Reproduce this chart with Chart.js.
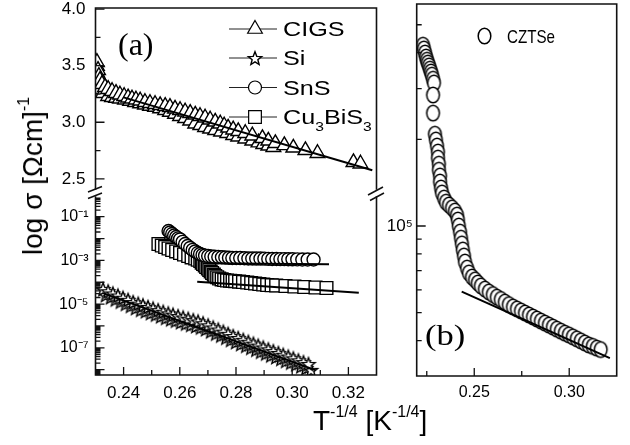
<!DOCTYPE html>
<html>
<head>
<meta charset="utf-8">
<script src="https://cdn.jsdelivr.net/npm/chart.js@4.4.1/dist/chart.umd.min.js"></script>
<style>
html,body{margin:0;padding:0;background:#fff;}
body{width:630px;height:445px;position:relative;overflow:hidden;font-family:Arial,"Liberation Sans",sans-serif;color:#000;}
canvas{position:absolute;}
#ytitle{position:absolute;left:35px;top:176px;transform:translate(-50%,-50%) rotate(-90deg);font-size:28px;line-height:28px;white-space:nowrap;}
#xtitle{position:absolute;left:313px;top:407px;font-size:28px;line-height:28px;white-space:nowrap;}
.sup{font-size:16px;position:relative;top:-13px;}
</style>
</head>
<body>
<canvas id="ca" width="400" height="195" style="left:0;top:0"></canvas>
<canvas id="cb" width="400" height="265" style="left:0;top:180px"></canvas>
<canvas id="cc" width="260" height="445" style="left:370px;top:0"></canvas>
<div id="ytitle">log σ [Ωcm]<span class="sup">-1</span></div>
<div id="xtitle">T<span class="sup">-1/4</span> [K<span class="sup">-1/4</span>]</div>
<script>
// ---------- axis ticks / labels ----------
const tTicksA = [0.24, 0.26, 0.28, 0.30, 0.32];
const tMinorA = [0.25, 0.27, 0.29, 0.31];
const upperTicks = [2.5, 3.0, 3.5, 4.0];
const upperMinor = [2.75, 3.25, 3.75];
const lowerLabelExps = [-7, -5, -3, -1];
const lowerDecades = [-9, -8, -7, -6, -5, -4, -3, -2, -1];
const tTicksB = [0.25, 0.30];
const tMinorB = [0.225, 0.275];
const rightLabelExps = [5];
const rightDecades = [4, 5];
const seriesNamesA = ['CIGS', 'Si', 'SnS', 'Cu3BiS3'];
const seriesNameB = 'CZTSe';

// ---------- panel (a), upper segment: CIGS (log sigma) ----------
const cigsT1 = [0.2305,0.2309,0.2312,0.2316,0.2323,0.2334,0.2345,0.2359,0.2373,0.2387,0.2402,0.2416,0.2430,0.2444,0.2459,0.2476,0.2494,0.2512,0.2530,0.2548,0.2565,0.2583,0.2601,0.2619,0.2637,0.2655,0.2672,0.2690,0.2708,0.2726,0.2744,0.2758,0.2772,0.2790,0.2808,0.2833,0.2858,0.2894,0.2915,0.2940,0.2972,0.3004,0.3047,0.3090,0.3218,0.3243];
const cigsLogS1 = [3.531,3.460,3.407,3.372,3.336,3.310,3.292,3.274,3.257,3.243,3.230,3.217,3.208,3.199,3.190,3.177,3.168,3.159,3.150,3.142,3.133,3.119,3.106,3.093,3.080,3.066,3.053,3.040,3.022,3.004,2.987,2.969,2.951,2.934,2.920,2.903,2.881,2.858,2.836,2.814,2.796,2.774,2.752,2.726,2.646,2.633];
const cigsT2 = [0.2305,0.2305,0.2309,0.2312,0.2316,0.2327,0.2345,0.2359,0.2373,0.2387,0.2405,0.2423,0.2441,0.2459,0.2476,0.2494,0.2512,0.2530,0.2548,0.2565,0.2583,0.2601,0.2619,0.2637,0.2655,0.2673,0.2690,0.2708,0.2726,0.2747,0.2769,0.2790,0.2808,0.2833,0.2858,0.2880,0.2897,0.2915,0.2933];
const cigsLogS2 = [3.496,3.442,3.389,3.336,3.292,3.257,3.230,3.221,3.214,3.208,3.199,3.188,3.177,3.166,3.155,3.144,3.135,3.122,3.106,3.091,3.073,3.053,3.035,3.013,2.987,2.973,2.956,2.942,2.929,2.916,2.903,2.885,2.872,2.854,2.836,2.820,2.805,2.792,2.779];
const cigsFitT = [0.2400, 0.3285];
const cigsFitLogS = [3.220, 2.575];

// ---------- panel (a), lower segment (log10 sigma) ----------
const siT1 = [0.2327,0.2345,0.2362,0.2380,0.2398,0.2416,0.2434,0.2452,0.2469,0.2487,0.2505,0.2523,0.2541,0.2559,0.2576,0.2594,0.2612,0.2630,0.2648,0.2665,0.2683,0.2701,0.2719,0.2737,0.2755,0.2772,0.2790,0.2808,0.2826,0.2844,0.2862,0.2879,0.2897,0.2915,0.2933,0.2951,0.2968,0.2986,0.3004,0.3022,0.3040,0.3058];
const siLogS1 = [-4.309,-4.410,-4.510,-4.606,-4.707,-4.803,-4.904,-4.977,-5.050,-5.128,-5.201,-5.275,-5.348,-5.421,-5.481,-5.545,-5.609,-5.668,-5.732,-5.792,-5.874,-5.970,-6.066,-6.162,-6.259,-6.359,-6.460,-6.547,-6.634,-6.721,-6.808,-6.895,-6.982,-7.069,-7.151,-7.233,-7.316,-7.398,-7.481,-7.572,-7.654,-7.737];
const siT2 = [0.2336,0.2354,0.2371,0.2389,0.2407,0.2425,0.2443,0.2461,0.2478,0.2496,0.2514,0.2532,0.2550,0.2568,0.2585,0.2603,0.2621,0.2639,0.2657,0.2674,0.2692,0.2710,0.2728,0.2746,0.2764,0.2781,0.2799,0.2817,0.2835,0.2853,0.2871,0.2888,0.2906,0.2924,0.2942,0.2960,0.2977,0.2995,0.3013,0.3031,0.3049,0.3067];
const siLogS2 = [-4.58,-4.68,-4.78,-4.88,-4.98,-5.07,-5.17,-5.25,-5.32,-5.40,-5.47,-5.55,-5.62,-5.69,-5.75,-5.82,-5.88,-5.94,-6.00,-6.06,-6.14,-6.24,-6.34,-6.43,-6.53,-6.63,-6.73,-6.82,-6.90,-6.99,-7.08,-7.17,-7.25,-7.34,-7.42,-7.50,-7.59,-7.67,-7.75,-7.84,-7.92,-8.01];
const siFitT = [0.2329, 0.3083];
const siFitLogS = [-4.51, -8.02];

const snsT = [0.2560,0.2566,0.2573,0.2580,0.2587,0.2594,0.2601,0.2610,0.2619,0.2628,0.2637,0.2646,0.2655,0.2664,0.2672,0.2681,0.2690,0.2701,0.2712,0.2724,0.2737,0.2750,0.2762,0.2775,0.2787,0.2801,0.2815,0.2830,0.2844,0.2858,0.2872,0.2887,0.2901,0.2915,0.2929,0.2944,0.2958,0.2972,0.2986,0.3001,0.3018,0.3036,0.3055,0.3076];
const snsLogS = [-1.654,-1.72,-1.79,-1.86,-1.93,-1.99,-2.04,-2.15,-2.25,-2.34,-2.43,-2.52,-2.59,-2.66,-2.71,-2.75,-2.78,-2.80,-2.82,-2.835,-2.845,-2.855,-2.867,-2.878,-2.89,-2.89,-2.893,-2.90,-2.913,-2.913,-2.915,-2.915,-2.92,-2.93,-2.936,-2.936,-2.94,-2.94,-2.945,-2.95,-2.955,-2.96,-2.96,-2.96];
const snsFitT = [0.2696, 0.3131];
const snsFitLogS = [-3.133, -3.178];

const cbsT = [0.2524,0.2536,0.2548,0.2560,0.2573,0.2587,0.2601,0.2615,0.2630,0.2642,0.2655,0.2664,0.2673,0.2678,0.2683,0.2689,0.2694,0.2700,0.2705,0.2710,0.2715,0.2721,0.2726,0.2733,0.2740,0.2749,0.2758,0.2768,0.2779,0.2788,0.2797,0.2811,0.2825,0.2840,0.2854,0.2868,0.2883,0.2897,0.2911,0.2927,0.2943,0.2976,0.3008,0.3043,0.3083,0.3122];
const cbsLogS = [-2.249,-2.32,-2.387,-2.455,-2.524,-2.59,-2.661,-2.73,-2.799,-2.86,-2.913,-2.97,-3.027,-3.10,-3.165,-3.23,-3.302,-3.37,-3.440,-3.51,-3.577,-3.65,-3.714,-3.77,-3.828,-3.87,-3.897,-3.92,-3.929,-3.94,-3.952,-3.97,-3.989,-4.01,-4.034,-4.057,-4.080,-4.103,-4.126,-4.138,-4.149,-4.172,-4.195,-4.217,-4.240,-4.263];
const cbsFitT = [0.2662, 0.3237];
const cbsFitLogS = [-3.975, -4.478];

// ---------- panel (b): CZTSe (log10 values) ----------
const cztseT = [0.2230,0.2235,0.2241,0.2246,0.2251,0.2256,0.2262,0.2267,0.2272,0.2277,0.2283,0.2288,0.2283,0.2283,0.2293,0.2298,0.2304,0.2309,0.2309,0.2314,0.2314,0.2320,0.2320,0.2325,0.2330,0.2341,0.2351,0.2367,0.2383,0.2398,0.2409,0.2414,0.2419,0.2425,0.2430,0.2435,0.2440,0.2446,0.2451,0.2462,0.2472,0.2488,0.2504,0.2519,0.2535,0.2556,0.2577,0.2598,0.2619,0.2640,0.2661,0.2682,0.2704,0.2725,0.2746,0.2767,0.2788,0.2809,0.2830,0.2851,0.2872,0.2893,0.2914,0.2935,0.2956,0.2977,0.2998,0.3019,0.3040,0.3061,0.3082,0.3103,0.3124,0.3145,0.3166];
const cztseLog = [5.628,5.615,5.601,5.587,5.576,5.566,5.556,5.545,5.535,5.524,5.510,5.497,5.455,5.392,5.319,5.299,5.278,5.257,5.236,5.215,5.194,5.174,5.153,5.132,5.115,5.097,5.083,5.073,5.063,5.052,5.038,5.021,5.000,4.979,4.958,4.938,4.917,4.896,4.875,4.854,4.837,4.823,4.813,4.802,4.792,4.781,4.771,4.762,4.753,4.745,4.736,4.727,4.719,4.712,4.705,4.698,4.691,4.684,4.677,4.670,4.663,4.656,4.649,4.642,4.635,4.628,4.622,4.615,4.608,4.601,4.594,4.587,4.582,4.576,4.571];
const cztseFitT = [0.2434, 0.3214];
const cztseFitLog = [4.772, 4.541];

// ---------- helpers ----------
Chart.defaults.font.family = "Arial, 'Liberation Sans', sans-serif";
Chart.defaults.color = '#000';
const supMap = {'-':'\u207B','0':'\u2070','1':'\u00B9','2':'\u00B2','3':'\u00B3','4':'\u2074','5':'\u2075','6':'\u2076','7':'\u2077','8':'\u2078','9':'\u2079'};
const toSup = s => String(s).split('').map(c => supMap[c] || c).join('');
const pts = (xs, ys) => xs.map((x, i) => ({x: x, y: ys[i]}));

function makeStar(R, r) {
  const s = Math.ceil(2 * R + 4);
  const c = document.createElement('canvas'); c.width = s; c.height = s;
  const g = c.getContext('2d');
  g.translate(s / 2, s / 2 + 0.8);
  g.beginPath();
  for (let i = 0; i < 10; i++) {
    const ang = -Math.PI / 2 + i * Math.PI / 5;
    const rad = (i % 2) ? r : R;
    g.lineTo(rad * Math.cos(ang), rad * Math.sin(ang));
  }
  g.closePath(); g.fillStyle = '#fff'; g.fill();
  g.strokeStyle = '#000'; g.lineWidth = 1.4; g.lineJoin = 'miter'; g.stroke();
  return c;
}
function makeEllipse(rx, ry) {
  const w = Math.ceil(2 * rx + 4), h = Math.ceil(2 * ry + 4);
  const c = document.createElement('canvas'); c.width = w; c.height = h;
  const g = c.getContext('2d');
  g.beginPath(); g.ellipse(w / 2, h / 2, rx, ry, 0, 0, Math.PI * 2);
  g.fillStyle = '#fff'; g.fill(); g.lineWidth = 1.5; g.strokeStyle = '#000'; g.stroke();
  return c;
}
const starImg = makeStar(7, 3);
const ellImg = makeEllipse(6.3, 7.8);

function markers(label, xs, ys, style, radius) {
  return { label, data: pts(xs, ys), pointStyle: style, pointRadius: radius, pointBorderWidth: 1.4,
    pointBorderColor: '#000', pointBackgroundColor: '#fff', showLine: false, order: 1 };
}
function fit(label, xs, ys) {
  return { label, data: pts(xs, ys), showLine: true, borderColor: '#000', borderWidth: 2,
    pointRadius: 0, order: 0, fill: false };
}
function yScale(min, max, ticks, fmt, width, pad, font) {
  return { type: 'linear', min, max,
    afterBuildTicks: s => { s.ticks = ticks.map(v => ({value: v})); },
    afterFit: s => { s.width = width; s.paddingTop = 0; s.paddingBottom = 0; },
    grid: {display: false, drawTicks: false}, border: {display: false},
    ticks: {callback: fmt, padding: pad, font, color: '#000', autoSkip: false} };
}
function xScale(min, max, ticks, fmt, height, pad, font) {
  return { type: 'linear', min, max,
    afterBuildTicks: s => { s.ticks = ticks.map(v => ({value: v})); },
    afterFit: s => { s.height = height; s.paddingLeft = 0; s.paddingRight = 0; },
    grid: {display: false, drawTicks: false}, border: {display: false},
    ticks: {callback: fmt, padding: pad, font, color: '#000', autoSkip: false, maxRotation: 0} };
}
function logMinors(decades, min, max) {
  const out = [];
  decades.forEach(n => { for (let k = 2; k <= 9; k++) { const v = n + Math.log10(k); if (v > min && v < max) out.push(v); } });
  return out;
}
function frameTicks(cfg) {
  return {
    id: 'frame_' + cfg.name,
    afterDatasetsDraw(chart) {
      const ctx = chart.ctx, a = chart.chartArea;
      const xs = chart.scales.x, ys = chart.scales.y;
      ctx.save();
      ctx.strokeStyle = '#111'; ctx.lineWidth = 1.6; ctx.lineCap = 'square';
      ctx.beginPath();
      if (cfg.sides.includes('t')) { ctx.moveTo(a.left, a.top); ctx.lineTo(a.right, a.top); }
      if (cfg.sides.includes('b')) { ctx.moveTo(a.left, a.bottom); ctx.lineTo(a.right, a.bottom); }
      if (cfg.sides.includes('l')) { ctx.moveTo(a.left, a.top); ctx.lineTo(a.left, a.bottom); }
      if (cfg.sides.includes('r')) { ctx.moveTo(a.right, a.top); ctx.lineTo(a.right, a.bottom); }
      ctx.stroke();
      ctx.lineWidth = 1.3; ctx.lineCap = 'butt';
      ctx.beginPath();
      (cfg.xMajor || []).forEach(v => { const p = xs.getPixelForValue(v); ctx.moveTo(p, a.bottom); ctx.lineTo(p, a.bottom - 8); });
      (cfg.xMinor || []).forEach(v => { const p = xs.getPixelForValue(v); ctx.moveTo(p, a.bottom); ctx.lineTo(p, a.bottom - 5); });
      (cfg.yMajor || []).forEach(v => { const p = ys.getPixelForValue(v); ctx.moveTo(a.left, p); ctx.lineTo(a.left + 9, p); });
      (cfg.yMinor || []).forEach(v => { const p = ys.getPixelForValue(v); ctx.moveTo(a.left, p); ctx.lineTo(a.left + 5, p); });
      ctx.stroke();
      if (cfg.extra) cfg.extra(chart, ctx);
      ctx.restore();
    }
  };
}
function scaledText(ctx, txt, x, y, font, sx) {
  ctx.save(); ctx.translate(x, y); ctx.scale(sx, 1); ctx.font = font;
  ctx.textBaseline = 'alphabetic'; ctx.textAlign = 'left';
  ctx.fillText(txt, 0, 0);
  const w = ctx.measureText(txt).width * sx; ctx.restore(); return w;
}
function chemText(ctx, txt, x, y, size, sx) {
  const parts = txt.match(/[A-Za-z]+|[0-9]+/g);
  let cx = x;
  parts.forEach(p => {
    if (/^[0-9]+$/.test(p)) cx += scaledText(ctx, p, cx, y + 7, (size * 0.62) + 'px Arial', sx);
    else cx += scaledText(ctx, p, cx, y, size + 'px Arial', sx);
  });
}

const baseOpts = (padding) => ({
  responsive: false, animation: false, events: [],
  layout: { autoPadding: false, padding },
  plugins: { legend: {display: false}, tooltip: {enabled: false} }
});

// ---------- chart A: panel (a) upper segment ----------
const legendStyles = ['triangle', starImg, 'circle', 'rect'];
const legendRadius = [8.5, 7, 6.5, 9];
new Chart(document.getElementById('ca'), {
  type: 'scatter',
  data: { datasets: [
    fit('CIGS fit', cigsFitT, cigsFitLogS),
    markers('CIGS', cigsT1, cigsLogS1, 'triangle', 8.5),
    markers('CIGS (2)', cigsT2, cigsLogS2, 'triangle', 8.5)
  ]},
  options: Object.assign(baseOpts({left: 0, top: 8, right: 23.5, bottom: 6}), {
    scales: {
      x: { type: 'linear', display: false, min: 0.23, max: 0.33 },
      y: yScale(2.41, 4.01, upperTicks, v => v.toFixed(1), 95.5, 10, {size: 17})
    }
  }),
  plugins: [frameTicks({ name: 'a', sides: 'tlr', yMajor: upperTicks, yMinor: upperMinor,
    extra: (chart, ctx) => {
      ctx.fillStyle = '#000';
      ctx.font = "32px 'Liberation Serif', 'Times New Roman', serif";
      ctx.textBaseline = 'alphabetic'; ctx.textAlign = 'left';
      ctx.fillText('(a)', 118, 55);
      const ys = [29, 58, 87.5, 117];
      seriesNamesA.forEach((name, i) => {
        const y = ys[i];
        ctx.strokeStyle = '#222'; ctx.lineWidth = 1;
        ctx.beginPath(); ctx.moveTo(229, y); ctx.lineTo(277, y); ctx.stroke();
        ctx.fillStyle = '#fff'; ctx.strokeStyle = '#000'; ctx.lineWidth = 1.2;
        Chart.helpers.drawPoint(ctx, {pointStyle: legendStyles[i], radius: legendRadius[i], rotation: 0, borderWidth: 1.2}, 255, y);
        ctx.fillStyle = '#000';
        chemText(ctx, name, 283, y + 7, 21, 1.2);
      });
    }
  })]
});

// ---------- chart B: panel (a) lower segment ----------
const minB = -8.245, maxB = -0.098;
new Chart(document.getElementById('cb'), {
  type: 'scatter',
  data: { datasets: [
    fit('Si fit', siFitT, siFitLogS),
    fit('SnS fit', snsFitT, snsFitLogS),
    fit('Cu3BiS3 fit', cbsFitT, cbsFitLogS),
    markers('SnS', snsT, snsLogS, 'circle', 6.5),
    markers('Cu3BiS3', cbsT, cbsLogS, 'rect', 9),
    markers('Si', siT1, siLogS1, starImg, 7),
    markers('Si (2)', siT2, siLogS2, starImg, 7)
  ]},
  options: Object.assign(baseOpts({left: 0, top: 17, right: 23.5, bottom: 40}), {
    scales: {
      x: xScale(0.23, 0.33, tTicksA, v => v.toFixed(2), 30, 8, {size: 17}),
      y: yScale(minB, maxB, lowerLabelExps, v => '10' + toSup(v), 95.5, 7, {size: 16})
    }
  }),
  plugins: [frameTicks({ name: 'b', sides: 'lrb', xMajor: tTicksA, xMinor: tMinorA,
    yMajor: lowerDecades.filter(v => v > minB && v < maxB), yMinor: logMinors(lowerDecades, minB, maxB),
    extra: (chart, ctx) => {
      const oy = 180;
      ctx.strokeStyle = '#111'; ctx.lineWidth = 1.5;
      ctx.beginPath();
      ctx.moveTo(88, 192 - oy); ctx.lineTo(102, 186.5 - oy);
      ctx.moveTo(88, 198.5 - oy); ctx.lineTo(102, 193 - oy);
      ctx.moveTo(368, 195 - oy); ctx.lineTo(383, 187 - oy);
      ctx.moveTo(370, 200.5 - oy); ctx.lineTo(384, 193 - oy);
      ctx.stroke();
    }
  })]
});

// ---------- chart C: panel (b) ----------
const minC = 4.479, maxC = 5.771;
new Chart(document.getElementById('cc'), {
  type: 'scatter',
  data: { datasets: [
    fit('CZTSe fit', cztseFitT, cztseFitLog),
    markers('CZTSe', cztseT, cztseLog, ellImg, 7)
  ]},
  options: Object.assign(baseOpts({left: 0, top: 4, right: 13.3, bottom: 39}), {
    scales: {
      x: xScale(0.2197, 0.325, tTicksB, v => v.toFixed(2), 30, 7, {size: 16}),
      y: yScale(minC, maxC, rightLabelExps, v => '10' + toSup(v), 46.7, 4, {size: 17})
    }
  }),
  plugins: [frameTicks({ name: 'c', sides: 'tlrb', xMajor: tTicksB, xMinor: tMinorB,
    yMajor: rightDecades.filter(v => v > minC && v < maxC), yMinor: logMinors(rightDecades, minC, maxC),
    extra: (chart, ctx) => {
      ctx.drawImage(ellImg, Math.round(114 - ellImg.width / 2), Math.round(36 - ellImg.height / 2));
      ctx.fillStyle = '#000';
      scaledText(ctx, seriesNameB, 137, 43, '18.5px Arial', 0.82);
      ctx.save(); ctx.translate(55, 345); ctx.scale(1.15, 1);
      ctx.font = "30px 'Liberation Serif', 'Times New Roman', serif";
      ctx.fillText('(b)', 0, 0); ctx.restore();
    }
  })]
});
</script>
</body>
</html>
